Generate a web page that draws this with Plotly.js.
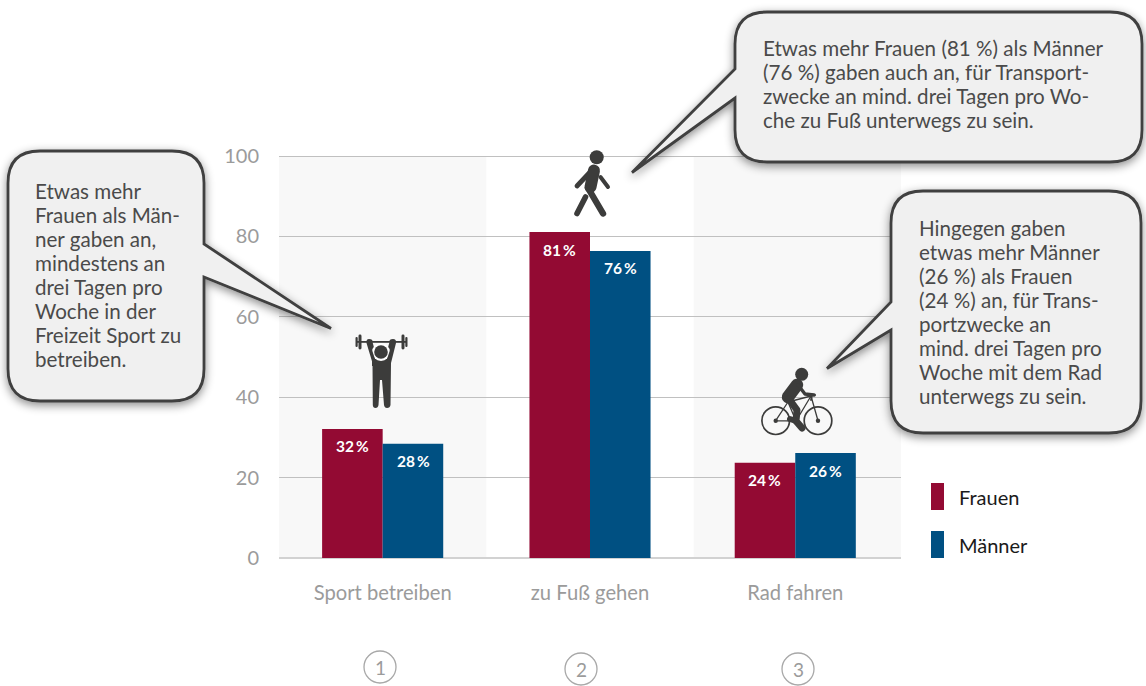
<!DOCTYPE html>
<html lang="de">
<head>
<meta charset="utf-8">
<script src="https://cdn.plot.ly/plotly-3.0.1.min.js"></script>
<style>html,body{margin:0;padding:0;background:#fff;overflow:hidden}#chart{width:1146px;height:686px}</style>
</head>
<body>
<div id="chart"></div>
<script>
const categories = ['Sport betreiben', 'zu Fuß gehen', 'Rad fahren'];
const groupPositions = [0, 1, 1.99];
const frauen = [32.1, 81.1, 23.7];
const maenner = [28.4, 76.4, 26.1];
const frauenLabels = ['32\u2009%', '81\u2009%', '24\u2009%'];
const maennerLabels = ['28\u2009%', '76\u2009%', '26\u2009%'];
const yTicks = [0, 20, 40, 60, 80, 100];
const noteSport = ['Etwas mehr', 'Frauen als Män-', 'ner gaben an,', 'mindestens an', 'drei Tagen pro', 'Woche in der', 'Freizeit Sport zu', 'betreiben.'];
const noteFuss = ['Etwas mehr Frauen (81 %) als Männer', '(76 %) gaben auch an, für Transport-', 'zwecke an mind. drei Tagen pro Wo-', 'che zu Fuß unterwegs zu sein.'];
const noteRad = ['Hingegen gaben', 'etwas mehr Männer', '(26 %) als Frauen', '(24 %) an, für Trans-', 'portzwecke an', 'mind. drei Tagen pro', 'Woche mit dem Rad', 'unterwegs zu sein.'];
const legendNames = ['Frauen', 'Männer'];
const circleNumbers = ['1', '2', '3'];

const RED = '#930a33', BLUE = '#005082', FONT = 'Lato, sans-serif';
const W = 1146, H = 686, L = 279, T = 156, PW = 622, PH = 402;
const xp = px => (px - L) / PW;
const yp = py => (T + PH - py) / PH;

function bubble(x0, y0, x1, y1, r, side, a, tip, b) {
  let d = `M${x0 + r},${y0} H${x1 - r} Q${x1},${y0} ${x1},${y0 + r} `;
  if (side === 'r') d += `V${a} L${tip[0]},${tip[1]} L${x1},${b} `;
  d += `V${y1 - r} Q${x1},${y1} ${x1 - r},${y1} H${x0 + r} Q${x0},${y1} ${x0},${y1 - r} `;
  if (side === 'l') d += `V${b} L${tip[0]},${tip[1]} L${x0},${a} `;
  d += `V${y0 + r} Q${x0},${y0} ${x0 + r},${y0} Z`;
  return `<path d="${d}" fill="#f0f0f0" stroke="#3f3f3f" stroke-width="2.8" stroke-linejoin="miter" filter="url(#s)"/>`;
}
const ink = '#3c3c3b';
const lifter = `<g fill="${ink}">
<rect x="356" y="341" width="51" height="1.8"/>
<rect x="355.5" y="337" width="2.2" height="10" rx="1"/><rect x="358.5" y="334.5" width="3" height="15" rx="1.4"/>
<rect x="401.5" y="334.5" width="3" height="15" rx="1.4"/><rect x="405.3" y="337" width="2.2" height="10" rx="1"/>
<path d="M369,339 Q373,339 372.5,342 L376,355 Q381,352 386,355 L389.5,342 Q389,339 393,339 Q396.5,339 396,343 L391,363 L390.5,405 Q390,408 387,408 Q384.5,408 384,405 L382,380 H380 L378.5,405 Q378,408 375.5,408 Q373,408 372.8,405 L372.5,363 L366.5,343 Q366,339 369,339Z"/>
<circle cx="381" cy="352" r="9" fill="#fff"/>
<path d="M372,350 L376,362 H386 L390,350 L390,366 H372Z"/>
<circle cx="381" cy="352" r="6.8"/></g>`;
const walker = `<g fill="none" stroke="${ink}" stroke-linecap="round" stroke-linejoin="round">
<circle cx="596.7" cy="157.3" r="7" fill="${ink}" stroke="none"/>
<path d="M593,169 L577,186" stroke-width="4.8"/>
<path d="M600.5,177 L608,187" stroke-width="4"/>
<path d="M594,170.5 L590.5,187" stroke-width="12"/>
<path d="M588,188 L603,213.5" stroke-width="6.4"/>
<path d="M585.5,197 L577,213.5" stroke-width="5.6"/></g>`;
const cyclist = `<g fill="none" stroke="${ink}" stroke-linecap="round" stroke-linejoin="round">
<circle cx="801.7" cy="374.3" r="6.5" fill="${ink}" stroke="none"/>
<circle cx="775.7" cy="420.7" r="13.8" stroke-width="1.7"/><circle cx="818" cy="420.7" r="13.8" stroke-width="1.7"/>
<circle cx="775.7" cy="420.7" r="2.2" fill="${ink}" stroke="none"/><circle cx="818" cy="420.7" r="2.2" fill="${ink}" stroke="none"/>
<path d="M775.7,420.7 L788,402 L811,396 L818,420.7 M811,396 L796,421 L775.7,420.7 M788,402 L796,421" stroke-width="1.3"/>
<path d="M811,400 L812,395 L815,395" stroke-width="1.8"/>
<path d="M797,385 L788,397" stroke-width="12.5"/>
<path d="M798,385 L805,394 L814,395" stroke-width="3.4"/>
<path d="M789,399 L797,410 L796,421 L802,428" stroke-width="7"/>
<path d="M796,421 L790,419" stroke-width="6"/></g>`;

const overlay = `<svg xmlns="http://www.w3.org/2000/svg" width="${W}" height="${H}" viewBox="0 0 ${W} ${H}">
<defs><filter id="s" x="-20%" y="-20%" width="140%" height="140%"><feDropShadow dx="0" dy="3" stdDeviation="5" flood-color="#000" flood-opacity="0.45"/></filter></defs>
${bubble(8, 151, 204, 401, 32, 'r', 244, [331, 328.5], 277)}
${bubble(735, 12, 1142, 162, 32, 'l', 69, [632, 172.5], 98)}
${bubble(891, 191, 1141, 433, 32, 'l', 302, [827, 368.5], 330)}
${lifter}${walker}${cyclist}</svg>`;

const annotations = [];
function pageText(text, x, y, size, color, anchor, weight) {
  annotations.push({ xref: 'paper', yref: 'paper', x: xp(x), y: yp(y), text, showarrow: false,
    xanchor: anchor, yanchor: 'middle', align: anchor === 'center' ? 'center' : 'left',
    font: { family: FONT, size, color, weight: weight || 400 } });
}
noteSport.forEach((t, i) => pageText(t, 32.5, 191 + 24 * i, 20.6, '#4a4a4a', 'left'));
noteFuss.forEach((t, i) => pageText(t, 760.5, 48 + 24 * i, 20.6, '#4a4a4a', 'left'));
noteRad.forEach((t, i) => pageText(t, 917.5, 227.5 + 24 * i, 20.6, '#4a4a4a', 'left'));
legendNames.forEach((t, i) => pageText(t, 956.5, 497 + 48 * i, 20, '#1a1a1a', 'left'));
const circleX = [380, 581, 798], circleY = [667, 669, 669];
circleNumbers.forEach((t, i) => pageText(t, circleX[i], circleY[i], 19, '#9b9b9b', 'center'));
groupPositions.forEach((p, i) => {
  [[frauen, frauenLabels, -30.5], [maenner, maennerLabels, 30.5]].forEach(([vals, labels, dx]) => {
    annotations.push({ xref: 'x', yref: 'y', x: p, y: vals[i], text: labels[i], showarrow: false,
      xshift: dx, yshift: -17.5, xanchor: 'center', yanchor: 'middle',
      font: { family: FONT, size: 15.5, color: '#fff', weight: 700 } });
  });
});

const shapes = [
  { type: 'rect', layer: 'below', xref: 'x', yref: 'paper', x0: -0.5, x1: 0.5, y0: 0, y1: 1, fillcolor: '#f8f8f8', line: { width: 0 } },
  { type: 'rect', layer: 'below', xref: 'x', yref: 'paper', x0: 1.5, x1: 2.5, y0: 0, y1: 1, fillcolor: '#f8f8f8', line: { width: 0 } },
  { type: 'line', layer: 'below', xref: 'paper', yref: 'paper', x0: 0, x1: 1, y0: yp(156.5), y1: yp(156.5), line: { color: '#c0c0c0', width: 1 } },
  { type: 'rect', xref: 'paper', yref: 'paper', x0: xp(931), x1: xp(944), y0: yp(483), y1: yp(510), fillcolor: RED, line: { width: 0 } },
  { type: 'rect', xref: 'paper', yref: 'paper', x0: xp(931), x1: xp(944), y0: yp(531), y1: yp(558), fillcolor: BLUE, line: { width: 0 } }
];
circleX.forEach((cx, i) => shapes.push({ type: 'circle', xref: 'paper', yref: 'paper',
  x0: xp(cx - 16), x1: xp(cx + 16), y0: yp(circleY[i] + 16), y1: yp(circleY[i] - 16),
  fillcolor: 'rgba(0,0,0,0)', line: { color: '#a8a8a8', width: 1.3 } }));

Plotly.newPlot('chart', [
  { type: 'bar', name: 'Frauen', x: groupPositions, y: frauen, marker: { color: RED, line: { width: 0 } }, hoverinfo: 'skip' },
  { type: 'bar', name: 'Männer', x: groupPositions, y: maenner, marker: { color: BLUE, line: { width: 0 } }, hoverinfo: 'skip' }
], {
  width: W, height: H, autosize: false,
  margin: { l: L, r: W - L - PW, t: T, b: H - T - PH, pad: 0 },
  paper_bgcolor: '#fff', plot_bgcolor: 'rgba(0,0,0,0)',
  barmode: 'group', bargap: 0.41, bargroupgap: 0, showlegend: false,
  font: { family: FONT },
  xaxis: { type: 'linear', range: [-0.5, 2.5], tickvals: groupPositions, ticktext: categories, fixedrange: true,
    showgrid: false, showline: false, zeroline: false, ticks: '', ticklabelstandoff: 21,
    tickfont: { family: FONT, size: 20.2, color: '#9b9b9b' } },
  yaxis: { range: [0, 100.02], tickvals: yTicks, ticktext: yTicks.map(String), fixedrange: true,
    showgrid: true, gridcolor: '#c0c0c0', gridwidth: 1, zeroline: true, zerolinecolor: '#d2d2d2', zerolinewidth: 2,
    showline: false, ticks: '', ticklabelstandoff: 19,
    tickfont: { family: FONT, size: 20, color: '#9b9b9b' } },
  shapes, annotations,
  images: [{ source: 'data:image/svg+xml;charset=utf-8,' + encodeURIComponent(overlay), xref: 'paper', yref: 'paper',
    x: xp(0), y: yp(0), sizex: W / PW, sizey: H / PH, xanchor: 'left', yanchor: 'top', sizing: 'stretch', layer: 'above' }]
}, { displayModeBar: false, staticPlot: true });
</script>
</body>
</html>
